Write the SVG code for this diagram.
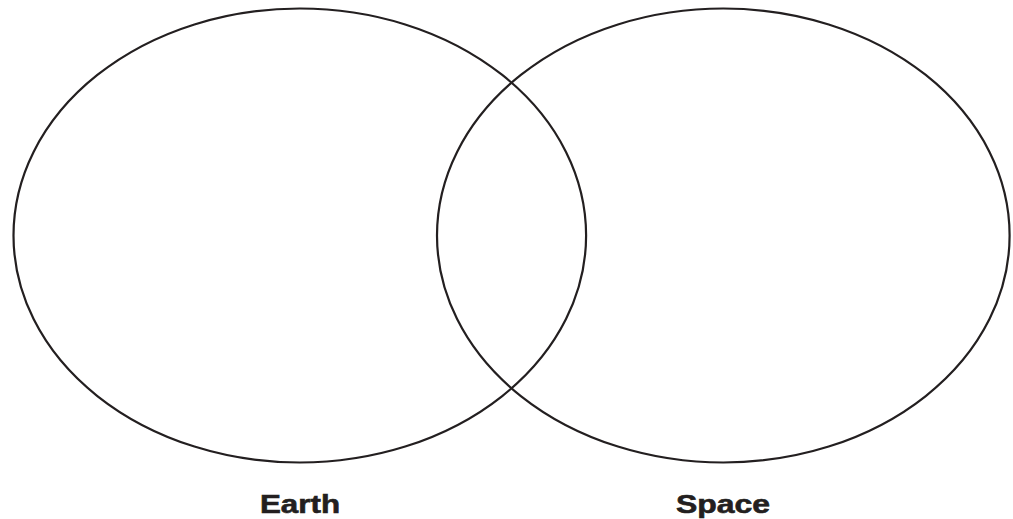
<svg xmlns="http://www.w3.org/2000/svg" width="1013" height="519" viewBox="0 0 1013 519">
<style>
.c{fill:none;stroke:#231f20;stroke-width:2.2}
.t{font-family:"Liberation Sans",Arial,sans-serif;font-weight:bold;font-size:25px;fill:#231f20;stroke:#231f20;stroke-width:0.6}
</style>
<rect width="1013" height="519" fill="#fff"/>
<g id="earth">
<ellipse class="c" cx="299.8" cy="235.5" rx="286.3" ry="227"/>
<text class="t" x="260" y="513" textLength="80" lengthAdjust="spacingAndGlyphs">Earth</text>
</g>
<g id="space">
<ellipse class="c" cx="723.3" cy="235.5" rx="286.3" ry="227"/>
<text class="t" x="676" y="513" textLength="94" lengthAdjust="spacingAndGlyphs">Space</text>
</g>
<g id="connectors"/>
</svg>
